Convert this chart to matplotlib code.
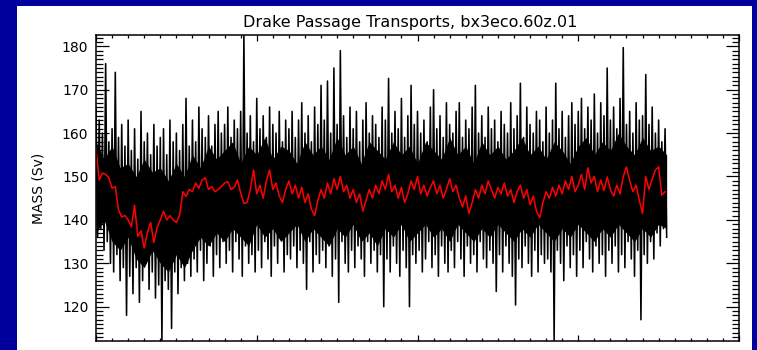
import matplotlib
matplotlib.use("Agg")
import matplotlib.pyplot as plt
from matplotlib.patches import Rectangle
from matplotlib.ticker import MultipleLocator, NullFormatter

# Transporte de masa (Sv): alterna picos y valles
mass = [
    166, 136, 163, 138, 160, 133, 176, 135, 158, 130, 161, 128, 174, 132, 159, 126, 162, 129, 157, 118,
    163, 127, 156, 123, 161, 129, 154, 121, 165, 126, 158, 130, 160, 124, 155, 128, 162, 122, 157, 125,
    159, 112.2, 161, 126, 155, 124, 163, 115, 158, 128, 160, 123, 156, 129, 162, 126, 168, 130, 157, 127,
    163, 131, 158, 128, 166, 133, 161, 126, 159, 130, 164, 134, 157, 127, 162, 132, 165, 129, 160, 135,
    162, 130, 166, 133, 159, 128, 163, 135, 161, 131, 165, 127, 182.5, 134, 160, 130, 164, 132, 158, 128,
    168, 133, 161, 129, 164, 135, 159, 131, 166, 127, 162, 134, 160, 130, 165, 136, 158, 128, 163, 132,
    161, 131, 165, 134, 159, 129, 163, 133, 167, 130, 160, 124, 164, 135, 158, 128, 166, 132, 162, 130,
    171, 133, 163, 129, 172, 134, 160, 127, 175, 131, 162, 121, 179, 135, 164, 130, 159, 128, 166, 133,
    161, 129, 165, 134, 158, 131, 163, 127, 167, 135, 160, 130, 164, 133, 162, 128, 159, 132, 166, 120,
    163, 131, 172.6, 128, 160, 134, 165, 130, 161, 127, 168, 133, 159, 129, 164, 120, 171, 132, 162, 130,
    165, 133, 160, 128, 163, 131, 158, 135, 166, 129, 170, 132, 161, 127, 164, 134, 159, 130, 167, 128,
    162, 133, 160, 129, 165, 135, 167, 131, 159, 127, 163, 134, 161, 130, 166, 132, 171, 128, 160, 135,
    164, 131, 159, 129, 166, 133, 161, 130, 163, 123.5, 158, 132, 165, 128, 162, 134, 160, 130, 167, 127,
    161, 120.4, 164, 131, 171.5, 129, 159, 134, 166, 130, 162, 127, 160, 133, 165, 128, 163, 132, 158, 130,
    166, 131, 160, 128, 163, 112.2, 171.5, 133, 161, 130, 165, 126, 159, 134, 164, 129, 167, 132, 162, 127,
    165, 133, 168, 129, 161, 135, 166, 131, 163, 128, 169, 134, 160, 130, 167, 132, 164, 127, 175, 133,
    163, 130, 166, 134, 161, 128, 168, 132, 179.7, 129, 162, 135, 165, 131, 160, 127, 167, 133, 163, 117,
    164, 132, 173.5, 130, 162, 135, 166, 131, 160, 137, 163, 134, 158, 138, 161, 136,
]

# Nucleo macizo de la banda negra (limites leidos cada 5 pasos)
t_core = list(range(0, 360, 5))
core_top = [
    158, 154, 157, 152, 153, 150, 154, 151, 152, 149, 153, 150,
    155, 152, 157, 154, 156, 158, 153, 157, 155, 159, 154, 157,
    156, 153, 158, 155, 157, 154, 159, 155, 157, 153, 158, 156,
    154, 158, 155, 157, 153, 158, 156, 154, 159, 155, 157, 153,
    158, 155, 157, 154, 156, 159, 155, 157, 154, 158, 156, 153,
    157, 159, 155, 158, 156, 160, 157, 155, 159, 156, 157, 155,
]
core_bottom = [
    137, 140, 135, 133, 136, 131, 129, 133, 130, 128, 132, 129,
    133, 136, 134, 137, 135, 138, 136, 134, 139, 136, 138, 135,
    137, 139, 135, 138, 136, 134, 138, 136, 139, 135, 137, 134,
    138, 136, 139, 135, 137, 139, 136, 138, 135, 139, 137, 135,
    138, 136, 139, 137, 135, 138, 136, 139, 137, 135, 138, 136,
    139, 137, 135, 138, 136, 139, 137, 135, 138, 136, 139, 138,
]

# Media suavizada (linea roja), un valor cada 2 pasos
smooth = [
    156.5, 149.2, 150.8, 150.5, 149.7, 147.3, 147.7, 142.3, 140.7, 141,
    140, 138.4, 143.4, 136.2, 137.5, 133.5, 137.1, 139.4, 134.8, 138.2,
    140, 142, 140, 141, 140, 139.4, 141, 146.5, 145.4, 147,
    146.5, 148.5, 147.3, 149.2, 149.7, 147, 147.7, 146.5, 147, 147.7,
    148.5, 148.8, 147, 147.5, 149.2, 146.2, 143.8, 144, 147, 151.5,
    146, 148, 145, 149, 151.5, 147, 148.5, 145.5, 144, 147,
    149, 146, 148, 145, 147.5, 144, 146, 142.5, 141, 144.5,
    147, 145, 148.5, 146, 149.5, 147, 150, 146.5, 148, 145,
    147, 144, 146, 142, 144.5, 147, 145, 148, 146, 149,
    147, 150.5, 146.5, 148, 145, 147.5, 144, 146, 149, 147,
    150, 146, 148, 145.5, 147.5, 149, 146, 148, 145, 147,
    149.5, 146.5, 148, 145, 143, 145.5, 141.5, 144, 147, 145,
    148, 146, 149, 147, 145, 147.5, 146, 148.5, 145.5, 147,
    144, 146.5, 148, 145, 147, 143.5, 145.5, 142, 140.5, 144,
    146.5, 145, 147.5, 145.5, 148, 146, 149, 147, 150, 146.5,
    148, 150.5, 147, 152, 148.5, 150, 146.5, 149.2, 146.8, 149.9,
    147, 145.5, 148, 146, 150, 152.2, 149, 146.5, 148, 144.5,
    141.5, 150, 147, 149.5, 151.5, 152.2, 145.7, 146.5,
]

t_mass = list(range(len(mass)))
t_smooth = [2 * k for k in range(len(smooth))]

fig = plt.figure(figsize=(7.57, 3.5), dpi=100, facecolor="#00009c")
# panel blanco detras de los ejes
panel = Rectangle((17 / 757, 0), 735 / 757, 344 / 350,
                  transform=fig.transFigure, facecolor="white",
                  edgecolor="none", zorder=-10)
fig.add_artist(panel)

ax = fig.add_axes([96 / 757, 9 / 350, 643 / 757, 306 / 350])
ax.set_zorder(5)
ax.set_facecolor("white")
ax.fill_between(t_core, core_bottom, core_top, color="black", linewidth=0)
ax.plot(t_mass, mass, color="black", linewidth=1.15)
ax.plot(t_smooth, smooth, color="red", linewidth=1.1)

ax.set_xlim(0, 400)
ax.set_ylim(112.1, 182.6)

ax.xaxis.set_major_locator(MultipleLocator(100))
ax.xaxis.set_minor_locator(MultipleLocator(10))
ax.xaxis.set_major_formatter(NullFormatter())
ax.yaxis.set_major_locator(MultipleLocator(10))
ax.yaxis.set_minor_locator(MultipleLocator(1))

ax.tick_params(axis="x", which="major", direction="in", length=4.5, width=0.9,
               top=True, bottom=True)
ax.tick_params(axis="x", which="minor", direction="in", length=2.2, width=0.9,
               top=True, bottom=True)
ax.tick_params(axis="y", which="major", direction="in", length=9.4, width=0.9,
               left=True, right=True, labelsize=10, pad=5.5)
ax.tick_params(axis="y", which="minor", direction="in", length=4.7, width=0.9,
               left=True, right=True)
for s in ax.spines.values():
    s.set_linewidth(1.1)

ax.set_ylabel("MASS (Sv)", fontsize=10)
ax.yaxis.set_label_coords(-0.079, 0.5)

fig.text(410 / 757, 328 / 350, "Drake Passage Transports, bx3eco.60z.01",
         ha="center", va="center", fontsize=11.5, color="black")

fig.savefig("out.png", dpi=100, facecolor=fig.get_facecolor())
